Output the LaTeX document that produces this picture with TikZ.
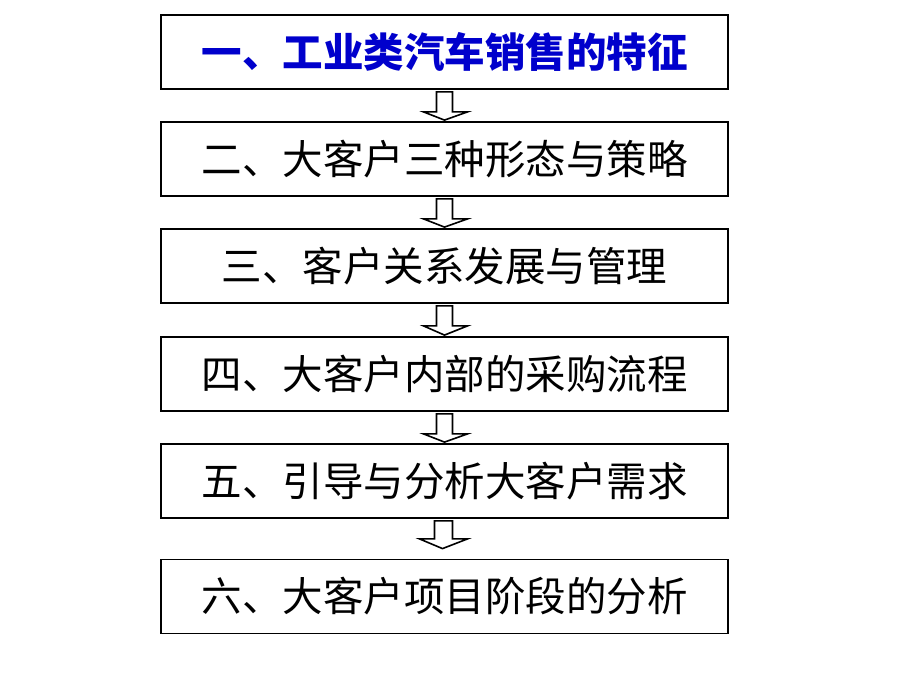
\documentclass[tikz,border=0pt]{standalone}
\usepackage{fontspec}
\newfontfamily\cjk{Noto Sans CJK SC}
\usetikzlibrary{calc}
\definecolor{titleblue}{RGB}{0,0,204}
\begin{document}
\begin{tikzpicture}[x=1pt,y=-1pt,
  box/.style={draw=black,line width=1.8pt,minimum width=567pt,minimum height=74pt,inner sep=0pt,font=\cjk\fontsize{40.5}{44}\selectfont,fill=white},
  barrow/.style={draw=black,line width=1.6pt,fill=white,line join=miter}]
\useasboundingbox (0,0) rectangle (920,690);
\node[box,text=titleblue,font=\cjk\bfseries\fontsize{40.5}{44}\selectfont] (b1) at (444.5,52) {一、工业类汽车销售的特征};
\node[box] (b2) at (444.5,159) {二、大客户三种形态与策略};
\node[box] (b3) at (444.5,266) {三、客户关系发展与管理};
\node[box] (b4) at (444.5,374) {四、大客户内部的采购流程};
\node[box] (b5) at (444.5,481) {五、引导与分析大客户需求};
\node[box] (b6) at (444.5,596.5) {六、大客户项目阶段的分析};
\foreach \a/\b in {b1/b2,b2/b3,b3/b4,b4/b5}{
  \draw[barrow] ($(\a.south)+(-8,2)$) -- ($(\a.south)+(8,2)$) -- ($(\a.south)+(8,22)$) -- ($(\a.south)+(23,22)$)
    -- ($(\b.north)+(0,-1)$) -- ($(\a.south)+(-21,22)$) -- ($(\a.south)+(-8,22)$) -- cycle;
}
\draw[barrow] ($(b5.south)+(-10,2)$) -- ($(b5.south)+(8,2)$) -- ($(b5.south)+(8,20)$) -- ($(b5.south)+(23,20)$)
    -- ($(b6.north)+(-2,-10)$) -- ($(b5.south)+(-25,20)$) -- ($(b5.south)+(-10,20)$) -- cycle;
\end{tikzpicture}
\end{document}
